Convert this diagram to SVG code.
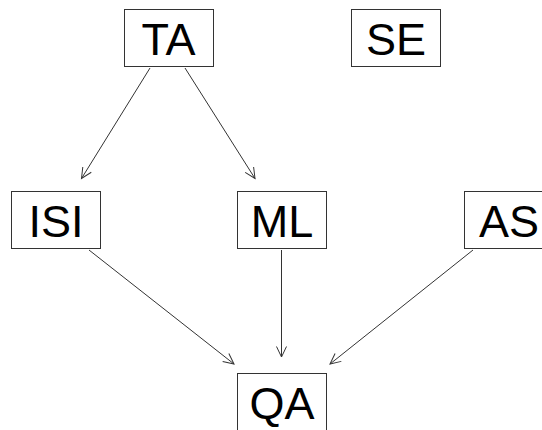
<svg xmlns="http://www.w3.org/2000/svg" width="542" height="430" viewBox="0 0 542 430">
  <style>
    .box { fill: #ffffff; stroke: #333333; stroke-width: 1; }
    .lbl { font-family: "Liberation Sans", Arial, sans-serif; font-size: 45px; fill: #000000; text-anchor: middle; }
    .edge { fill: none; stroke: #333333; stroke-width: 1; }
  </style>
  <defs>
    <marker id="arrow" markerUnits="userSpaceOnUse" markerWidth="14" markerHeight="14" refX="12" refY="7" orient="auto" overflow="visible">
      <path d="M1.5,2 L12,7 L1.5,12" fill="none" stroke="#333333" stroke-width="1"/>
    </marker>
  </defs>
  <rect width="542" height="430" fill="#ffffff"/>

  <!-- connectors -->
  <g id="edges">
    <line class="edge" x1="150" y1="68" x2="81.5" y2="178.5" marker-end="url(#arrow)"/>
    <line class="edge" x1="185" y1="68" x2="255" y2="178.5" marker-end="url(#arrow)"/>
    <line class="edge" x1="89" y1="250" x2="234" y2="364" marker-end="url(#arrow)"/>
    <line class="edge" x1="281.5" y1="250" x2="281.5" y2="357" marker-end="url(#arrow)"/>
    <line class="edge" x1="473" y1="250" x2="330" y2="364" marker-end="url(#arrow)"/>
  </g>

  <!-- nodes -->
  <g id="TA">
    <rect class="box" x="124.5" y="9.5" width="89" height="57"/>
    <text class="lbl" x="168.5" y="55">TA</text>
  </g>
  <g id="SE">
    <rect class="box" x="351.5" y="9.5" width="89" height="57"/>
    <text class="lbl" x="396" y="55">SE</text>
  </g>
  <g id="ISI">
    <rect class="box" x="11.5" y="191.5" width="89" height="57"/>
    <text class="lbl" x="56" y="237">ISI</text>
  </g>
  <g id="ML">
    <rect class="box" x="237.5" y="191.5" width="89" height="57"/>
    <text class="lbl" x="282" y="237">ML</text>
  </g>
  <g id="AS">
    <rect class="box" x="464.5" y="191.5" width="89" height="57"/>
    <text class="lbl" x="509" y="237">AS</text>
  </g>
  <g id="QA">
    <rect class="box" x="237.5" y="373.5" width="89" height="57"/>
    <text class="lbl" x="282" y="419">QA</text>
  </g>
</svg>
